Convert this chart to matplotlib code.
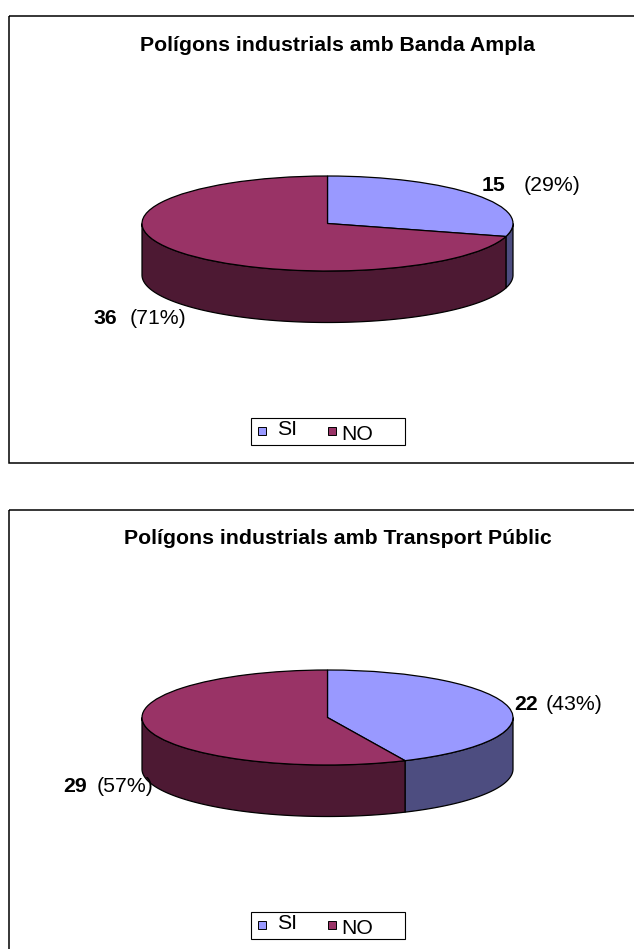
import numpy as np
import matplotlib
matplotlib.use('Agg')
import matplotlib.pyplot as plt
from matplotlib.patches import Rectangle

plt.rcParams['font.family'] = ['Liberation Sans', 'DejaVu Sans']

titles = ['Polígons industrials amb Banda Ampla', 'Polígons industrials amb Transport Públic']
names = ['SI', 'NO']
si_values = [15, 22]
no_values = [36, 29]
si_pct = ['(29%)', '(43%)']
no_pct = ['(71%)', '(57%)']

top_colors = ['#9999FF', '#993366']
side_colors = ['#4D4D80', '#4D1933']

W, H = 634, 949
fig = plt.figure(figsize=(W / 100, H / 100), dpi=100)
bg = fig.add_axes([0, 0, 1, 1], zorder=3)
bg.set_xlim(0, W)
bg.set_ylim(H, 0)
bg.axis('off')

# pixel layout of one panel, second one is shifted down
shift = 494
cx, cy, rx, ry, depth = 327.5, 223.5, 185.5, 47.5, 51.5
fs = 15.3
si_label_x = [(482, 524), (514, 546)]
si_label_y = [185, 211]
no_label_x = [(94, 130), (63.5, 97)]
no_label_y = [318, 293]


def draw_pie(vals, dy):
    # axes covers the ellipse and the wall below it, in units of the radius
    d = depth / ry
    left, right = cx - rx, cx + rx
    top, bottom = cy + dy - ry, cy + dy + ry + depth
    ax = fig.add_axes([left / W, 1 - bottom / H, (right - left) / W, (bottom - top) / H], zorder=2)

    # side wall, only the front half of the circle can be seen
    edges = 90 - np.cumsum([0] + list(vals)) / sum(vals) * 360
    for i in range(len(vals)):
        a0 = np.clip(edges[i], -180, 0)
        a1 = np.clip(edges[i + 1], -180, 0)
        if a0 == a1:
            continue
        t = np.radians(np.linspace(a0, a1, 200))
        x = np.cos(t)
        y = np.sin(t)
        ax.fill(np.r_[x, x[::-1]], np.r_[y, y[::-1] - d], fc=side_colors[i], ec='black', lw=0.9, clip_on=False)

    ax.pie(vals, colors=top_colors, startangle=90, counterclock=False, radius=1,
           wedgeprops=dict(edgecolor='black', linewidth=0.9, clip_on=False))
    ax.set_aspect('auto')
    ax.set_xlim(-1, 1)
    ax.set_ylim(-1 - d, 1)
    ax.axis('off')


for p in range(2):
    dy = shift * p
    bg.add_patch(Rectangle((8.5, 16 + dy), W + 20, 447, fc='none', ec='black', lw=1.1, clip_on=True))
    bg.text(338, 45 + dy, titles[p], ha='center', va='center', fontsize=fs, fontweight='bold')

    draw_pie([si_values[p], no_values[p]], dy)

    xs = si_label_x[p]
    bg.text(xs[0], si_label_y[p] + dy, str(si_values[p]), va='center', fontsize=fs, fontweight='bold')
    bg.text(xs[1], si_label_y[p] + dy, si_pct[p], va='center', fontsize=fs)
    xs = no_label_x[p]
    bg.text(xs[0], no_label_y[p] + dy, str(no_values[p]), va='center', fontsize=fs, fontweight='bold')
    bg.text(xs[1], no_label_y[p] + dy, no_pct[p], va='center', fontsize=fs)

    # legend, the two labels sit at different heights in the original
    bg.add_patch(Rectangle((251, 417.5 + dy), 153.5, 27.5, fc='white', ec='black', lw=0.8))
    bg.add_patch(Rectangle((257.5, 427 + dy), 8, 8, fc=top_colors[0], ec='black', lw=0.7))
    bg.add_patch(Rectangle((327.5, 427 + dy), 8, 8, fc=top_colors[1], ec='black', lw=0.7))
    bg.text(277, 429.5 + dy, names[0], va='center', fontsize=fs)
    bg.text(341, 434.5 + dy, names[1], va='center', fontsize=fs)

fig.savefig('out.png', dpi=100)
